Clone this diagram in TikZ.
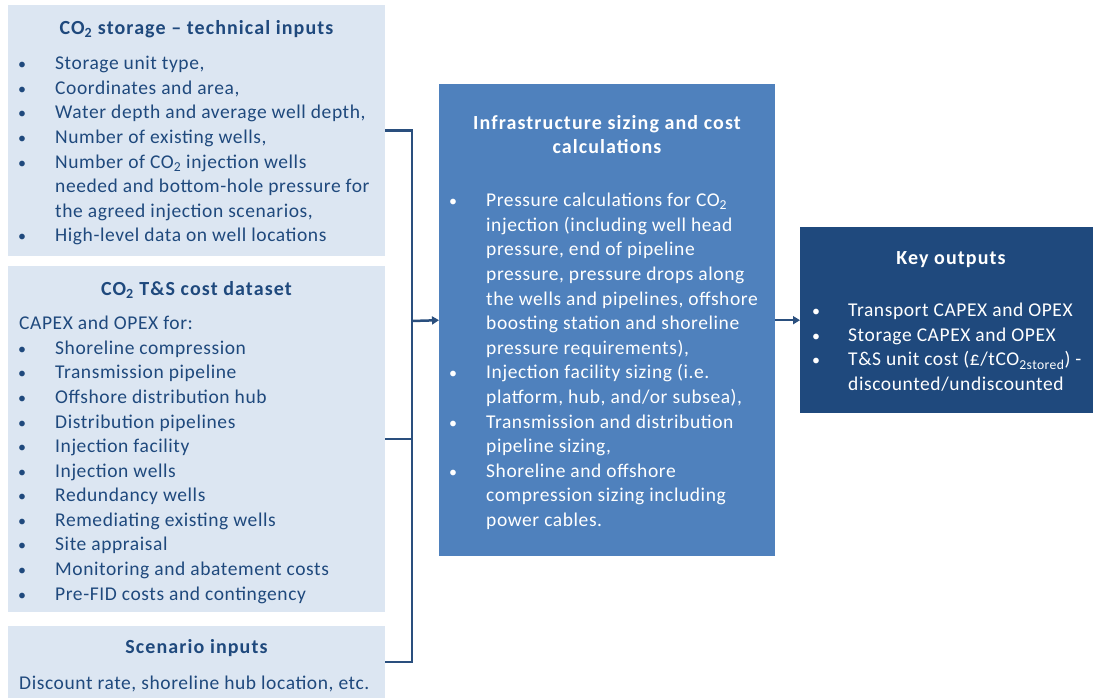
\documentclass[tikz,border=0pt]{standalone}
\usepackage{fontspec}
\setmainfont{Carlito}[LetterSpace=3]
\newfontfamily\headfont{Carlito}[LetterSpace=5.5]
\usetikzlibrary{arrows.meta}
\definecolor{lightbox}{HTML}{DCE6F2}
\definecolor{midbox}{HTML}{4F81BD}
\definecolor{darkbox}{HTML}{1F497D}
\definecolor{ink}{HTML}{1F497D}
\definecolor{wire}{HTML}{2A4F7E}
\newcommand{\COtwo}{CO\textsubscript{2}}
\begin{document}
\begin{tikzpicture}[x=1pt,y=-1pt,
  panel/.style={anchor=north west, inner sep=0pt, draw=none},
  txt/.style={anchor=base west, inner sep=0pt, font=\fontsize{19.5}{24}\selectfont},
  ttl/.style={anchor=base, inner sep=0pt, font=\headfont\fontsize{20}{24}\selectfont\bfseries},
  bul/.style={anchor=base, inner sep=0pt, font=\fontsize{16}{24}\selectfont},
  wire/.style={draw=wire, line width=2.5pt},
  arr/.style={wire, -{Triangle[length=7pt,width=8pt]}}]
\useasboundingbox (0,0) rectangle (1093,698);

% panels
\node[panel, fill=lightbox, minimum width=377pt, minimum height=251pt] (store) at (8,5) {};
\node[panel, fill=lightbox, minimum width=377pt, minimum height=346pt] (cost) at (8,266) {};
\node[panel, fill=lightbox, minimum width=377pt, minimum height=72pt] (scen) at (8,626) {};
\node[panel, fill=midbox, minimum width=336pt, minimum height=472pt] (calc) at (439,84) {};
\node[panel, fill=darkbox, minimum width=293pt, minimum height=186pt] (out) at (800,227) {};

% connectors
\coordinate (jt) at (412,321);
\draw[wire] (store.east) -- (store.east -| jt) -- (scen.east -| jt) -- (scen.east);
\draw[wire] (cost.east) -- (cost.east -| jt);
\draw[arr] (jt) -- (calc.west);
\draw[arr] (calc.east) -- (out.west);

% storage technical inputs
\node[ttl, text=ink] (st-t) at (196.5,34.3) {\COtwo\ storage – technical inputs};
\foreach \y/\t [count=\i] in {
  70/{Storage unit type,},
  94.5/{Coordinates and area,},
  119/{Water depth and average well depth,},
  143.5/{Number of existing wells,},
  168/{Number of \COtwo\ injection wells},
  192.5/{needed and bottom-hole pressure for},
  217/{the agreed injection scenarios,},
  241.5/{High-level data on well locations}}
  \node[txt, text=ink] (st-\i) at (55,\y) {\t};
\foreach \y [count=\i] in {70,94.5,119,143.5,168,241.5}
  \node[bul, text=ink] (stb-\i) at (22,\y) {•};

% cost dataset
\node[ttl, text=ink] (co-t) at (196.5,295.3) {\COtwo\ T\&S cost dataset};
\node[txt, text=ink] (co-h) at (19,329.8) {CAPEX and OPEX for:};
\foreach \t [count=\i] in {
  Shoreline compression, Transmission pipeline, Offshore distribution hub,
  Distribution pipelines, Injection facility, Injection wells,
  Redundancy wells, Remediating existing wells, Site appraisal,
  Monitoring and abatement costs, Pre-FID costs and contingency} {
  \pgfmathsetmacro{\yy}{354.4+24.56*(\i-1)}
  \node[txt, text=ink] (co-\i) at (55,\yy) {\t};
  \node[bul, text=ink] (cob-\i) at (22,\yy) {•};
}

% scenario inputs
\node[ttl, text=ink] (sc-t) at (196.5,653.3) {Scenario inputs};
\node[txt, text=ink] (sc-1) at (19,689.3) {Discount rate, shoreline hub location, etc.};

% infrastructure sizing and cost calculations
\node[ttl, text=white] (ca-t1) at (607,129.3) {Infrastructure sizing and cost};
\node[ttl, text=white] (ca-t2) at (607,154) {calculations};
\foreach \t [count=\i] in {
  {Pressure calculations for \COtwo},
  {injection (including well head},
  {pressure, end of pipeline},
  {pressure, pressure drops along},
  {the wells and pipelines, offshore},
  {boosting station and shoreline},
  {pressure requirements),},
  {Injection facility sizing (i.e.},
  {platform, hub, and/or subsea),},
  {Transmission and distribution},
  {pipeline sizing,},
  {Shoreline and offshore},
  {compression sizing including},
  {power cables.}} {
  \pgfmathsetmacro{\yy}{206.7+24.6*(\i-1)}
  \node[txt, text=white] (ca-\i) at (486,\yy) {\t};
}
\foreach \k [count=\i] in {1,8,10,12} {
  \pgfmathsetmacro{\yy}{206.7+24.6*(\k-1)}
  \node[bul, text=white] (cab-\i) at (453,\yy) {•};
}

% key outputs
\node[ttl, text=white] (ou-t) at (951,264.3) {Key outputs};
\foreach \t [count=\i] in {
  {Transport CAPEX and OPEX},
  {Storage CAPEX and OPEX},
  {T\&S unit cost (£/tCO\textsubscript{2stored}) -},
  {discounted/undiscounted}} {
  \pgfmathsetmacro{\yy}{316.7+24.6*(\i-1)}
  \node[txt, text=white] (ou-\i) at (848,\yy) {\t};
}
\foreach \k [count=\i] in {1,2,3} {
  \pgfmathsetmacro{\yy}{316.7+24.6*(\k-1)}
  \node[bul, text=white] (oub-\i) at (816,\yy) {•};
}
\end{tikzpicture}
\end{document}
